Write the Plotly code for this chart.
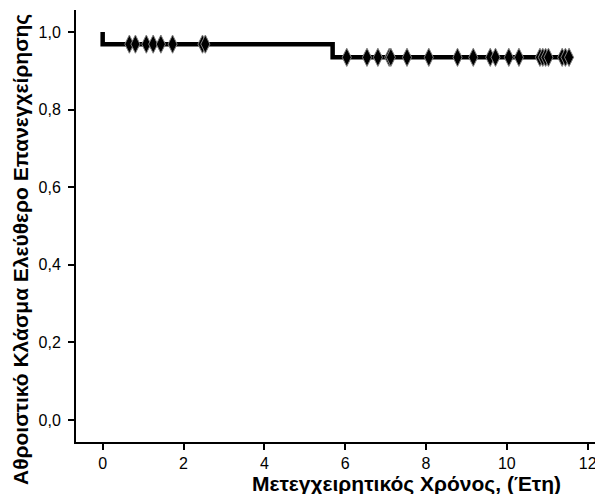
import plotly.graph_objects as go

# Kaplan-Meier step curve (time, survival)
step_times = [0.0, 0.0, 5.69, 5.69, 11.54]
step_values = [1.0, 0.969, 0.969, 0.935, 0.935]

# Censored observations
censor_times_1 = [0.66, 0.81, 1.08, 1.25, 1.44, 1.73, 2.47, 2.54]
censor_level_1 = 0.969
censor_times_2 = [6.04, 6.54, 6.81, 7.09, 7.13, 7.53, 8.07, 8.78, 9.17, 9.59,
                  9.72, 10.05, 10.30, 10.82, 10.89, 10.96, 11.03, 11.37, 11.45, 11.54]
censor_level_2 = 0.935

x_ticks = [0, 2, 4, 6, 8, 10, 12]
y_ticks = [0.0, 0.2, 0.4, 0.6, 0.8, 1.0]

x_title = "Μετεγχειρητικός Χρόνος, (Έτη)"
y_title = "Αθροιστικό Κλάσμα Ελεύθερο Επανεγχείρησης"

# page has an 8px body margin, so figure is 8px smaller and offset
OFF = 8
W, H = 603 - OFF, 494 - OFF
L, R, T, B = 76 - OFF, 0, 10 - OFF, 52

fig = go.Figure()
fig.add_trace(go.Scatter(
    x=step_times, y=step_values,
    mode="lines", line=dict(color="black", width=4.5),
    hoverinfo="skip", showlegend=False))
censor_x = censor_times_1 + censor_times_2
censor_y = [censor_level_1] * len(censor_times_1) + [censor_level_2] * len(censor_times_2)
fig.add_trace(go.Scatter(
    x=censor_x, y=censor_y, mode="markers",
    marker=dict(symbol="diamond-tall", size=13, color="black",
                line=dict(color="#808080", width=1)),
    showlegend=False))

pw = W - L - R
ph = H - T - B


def px2paper(px, py):
    return (px - OFF - L) / pw, (H - B - (py - OFF)) / ph


ax, ay = px2paper(406, 484)
bx, by = px2paper(21, 250)

fig.update_layout(
    width=W, height=H,
    margin=dict(l=L, r=R, t=T, b=B, pad=0),
    paper_bgcolor="white", plot_bgcolor="white",
    separators=", ",
    font=dict(family="Arial", size=16, color="black"),
    xaxis=dict(range=[-0.66, 12.38], tickvals=x_ticks, ticks="outside",
               ticklen=6, tickwidth=2, tickcolor="black", showline=True,
               linecolor="black", linewidth=2, showgrid=False, zeroline=False,
               automargin=False),
    yaxis=dict(range=[-0.057, 1.057], tickvals=y_ticks, tickformat=".1f",
               ticks="outside", ticklen=6, tickwidth=2, tickcolor="black",
               showline=True, linecolor="black", linewidth=2, showgrid=False,
               zeroline=False, automargin=False, ticklabelstandoff=4),
    annotations=[
        dict(text="<b>" + x_title + "</b>", x=ax, y=ay, xref="paper", yref="paper",
             xanchor="center", yanchor="middle", showarrow=False, font=dict(size=21)),
        dict(text="<b>" + y_title + "</b>", x=bx, y=by, xref="paper", yref="paper",
             xanchor="center", yanchor="middle", textangle=-90, showarrow=False,
             font=dict(size=21)),
    ],
)
fig.write_html("out.html")
